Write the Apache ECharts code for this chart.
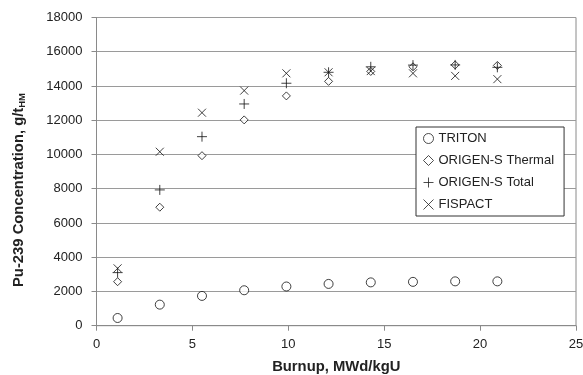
<!DOCTYPE html>
<html>
<head>
<meta charset="utf-8">
<script src="https://cdn.jsdelivr.net/npm/echarts@6/dist/echarts.min.js"></script>
<style>
html,body{margin:0;padding:0;background:#fff;}
#chart{width:583px;height:375px;}
</style>
</head>
<body>
<div id="chart"></div>
<script>
// burnup steps, MWd/kgU
let burnup = [1.1, 3.3, 5.5, 7.7, 9.9, 12.1, 14.3, 16.5, 18.7, 20.9];
// Pu-239, g/tHM
let triton  = [450, 1230, 1740, 2070, 2290, 2440, 2530, 2560, 2590, 2590];
let thermal = [2570, 6920, 9930, 12020, 13420, 14270, 14850, 15120, 15230, 15200];
let total   = [3100, 7930, 11040, 12950, 14160, 14800, 15120, 15220, 15230, 15090];
let fispact = [3350, 10160, 12440, 13730, 14740, 14800, 14870, 14740, 14590, 14400];
let names = ['TRITON','ORIGEN-S Thermal','ORIGEN-S Total','FISPACT'];

function pts(v){
  return burnup.map((x,i)=>[x,v[i]]);
}

let font = 'Liberation Sans, Arial, sans-serif';
let mk = {color:'#fff',borderColor:'#111',borderWidth:1};
let ln = {color:'transparent',borderColor:'#111',borderWidth:1};

let chart = echarts.init(document.getElementById('chart'));
chart.setOption({
  animation:false,
  textStyle:{fontFamily:font},
  grid:{left:96.5,right:7,top:17.5,bottom:49.3,outerBoundsMode:'none',containLabel:false,
        show:true,borderColor:'#8a8a8a',borderWidth:1},
  graphic:[{
    type:'text',
    x:19,y:190,
    rotation:Math.PI/2,
    style:{
      text:'{a|Pu-239 Concentration, g/t}{s|HM}',
      align:'center',verticalAlign:'middle',
      rich:{
        a:{fontFamily:font,fontSize:14.8,fontWeight:'bold',fill:'#222',color:'#222'},
        s:{fontFamily:font,fontSize:9.5,fontWeight:'bold',fill:'#222',color:'#222',padding:[7,0,0,0]}
      }
    }
  }],
  legend:{
    orient:'vertical',
    left:416,top:127,
    width:146,
    padding:[5,10,5,7],
    itemGap:9,
    itemWidth:10,itemHeight:10,
    itemStyle:{borderWidth:1},
    borderColor:'#333',borderWidth:1,
    backgroundColor:'#fff',
    textStyle:{fontFamily:font,fontSize:13,color:'#222'},
    data:[
      {name:names[0],icon:'circle',itemStyle:{color:'#fff',borderColor:'#222',borderWidth:1}},
      {name:names[1],icon:'diamond',itemStyle:{color:'#fff',borderColor:'#222',borderWidth:1}},
      {name:names[2],icon:'path://M0,5L10,5M5,0L5,10',itemStyle:{color:'transparent',borderColor:'#222',borderWidth:1}},
      {name:names[3],icon:'path://M0,0L10,10M10,0L0,10',itemStyle:{color:'transparent',borderColor:'#222',borderWidth:1}}
    ]
  },
  xAxis:{
    type:'value',min:0,max:25,interval:5,
    name:'Burnup, MWd/kgU',nameLocation:'middle',nameGap:34,
    nameTextStyle:{fontFamily:font,fontSize:14.8,fontWeight:'bold',color:'#222'},
    axisLine:{lineStyle:{color:'#8a8a8a'}},
    axisTick:{length:5,lineStyle:{color:'#8a8a8a'}},
    axisLabel:{margin:12,fontSize:13,color:'#222',fontFamily:font},
    splitLine:{show:false}
  },
  yAxis:{
    type:'value',min:0,max:18000,interval:2000,
    axisLine:{show:true,lineStyle:{color:'#8a8a8a'}},
    axisTick:{show:true,length:5,lineStyle:{color:'#8a8a8a'}},
    axisLabel:{margin:14,fontSize:13,color:'#222',fontFamily:font,formatter:(v)=>String(v)},
    splitLine:{lineStyle:{color:'#9a9a9a'}}
  },
  series:[
    {name:names[0],type:'scatter',symbol:'circle',symbolSize:9,itemStyle:mk,data:pts(triton)},
    {name:names[1],type:'scatter',symbol:'diamond',symbolSize:8,itemStyle:mk,data:pts(thermal)},
    {name:names[2],type:'scatter',symbol:'path://M0,5L10,5M5,0L5,10',symbolSize:10,itemStyle:ln,data:pts(total)},
    {name:names[3],type:'scatter',symbol:'path://M0,0L10,10M10,0L0,10',symbolSize:8,itemStyle:ln,data:pts(fispact)}
  ]
});
</script>
</body>
</html>
